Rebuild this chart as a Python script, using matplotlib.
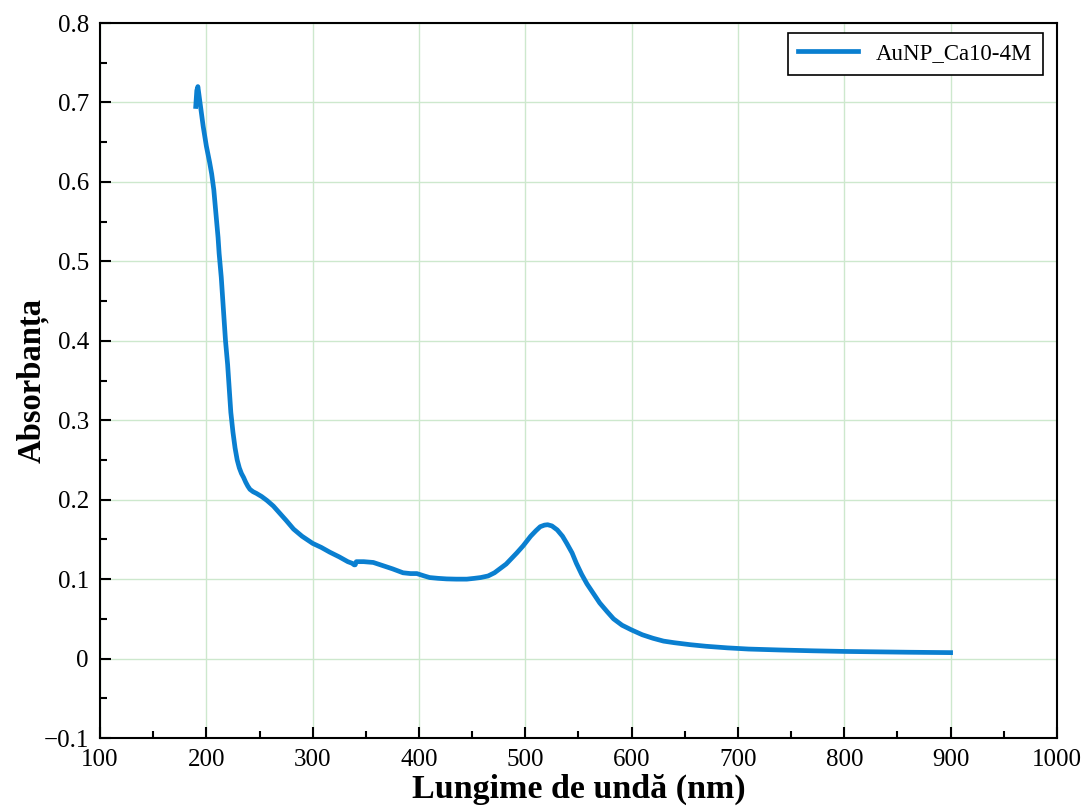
import matplotlib
matplotlib.use('Agg')
import matplotlib.pyplot as plt
from matplotlib.ticker import MultipleLocator

# Lungime de undă (nm) si absorbanța
lungime = [190, 191, 192, 193, 195, 197, 200, 203, 205, 207, 209, 211, 212, 214, 215,
           216, 217, 218, 220, 221, 223, 225, 227, 229, 231, 233, 235, 237, 239, 241,
           244, 247, 252, 257, 263, 269, 275, 282, 290, 300,
           308, 316, 325, 333, 337, 339, 340, 341, 348, 357, 366, 375, 385, 392,
           398, 405, 410, 418, 426, 435, 445, 452, 458, 465, 471, 476, 482, 487,
           492, 498, 505, 510, 514, 518, 521, 525, 530, 535, 539, 544, 548, 553,
           558, 564, 570, 577, 583, 591, 600, 610, 620, 630, 640, 655, 670, 690,
           710, 740, 770, 800, 830, 860, 900]
absorbanta = [0.695, 0.715, 0.72, 0.71, 0.69, 0.67, 0.645, 0.625, 0.61, 0.59, 0.56,
              0.53, 0.51, 0.48, 0.46, 0.44, 0.42, 0.40, 0.37, 0.35, 0.31, 0.285, 0.265,
              0.25, 0.24, 0.233, 0.228, 0.222, 0.217, 0.213, 0.210,
              0.208, 0.204, 0.199, 0.192,
              0.183, 0.174, 0.163, 0.154, 0.145, 0.140, 0.134, 0.128, 0.122, 0.12,
              0.118, 0.118, 0.122, 0.122, 0.121, 0.117, 0.113, 0.108, 0.107, 0.107,
              0.104, 0.102, 0.101, 0.1003, 0.1, 0.1, 0.101, 0.102, 0.104, 0.108,
              0.113, 0.119, 0.126, 0.133, 0.142, 0.154, 0.161, 0.166, 0.168, 0.1685,
              0.167, 0.162, 0.154, 0.145, 0.133, 0.12, 0.106, 0.094, 0.082, 0.07, 0.059,
              0.05, 0.042, 0.036, 0.030, 0.0256, 0.022, 0.020, 0.0175, 0.0155, 0.0135,
              0.012, 0.0108, 0.0098, 0.009, 0.0085, 0.008, 0.0075]

eticheta = 'AuNP_Ca10-4M'

plt.rcParams['font.family'] = ['Liberation Serif', 'DejaVu Serif']

fig = plt.figure(figsize=(10.84, 8.08), dpi=100)
ax = fig.add_axes([0.0923, 0.0866, 0.8827, 0.8849])

ax.plot(lungime, absorbanta, color='#0a7fd0', linewidth=3.4, label=eticheta,
        solid_joinstyle='round', zorder=3)

ax.set_xlim(100, 1000)
ax.set_ylim(-0.1, 0.8)
ax.xaxis.set_major_locator(MultipleLocator(100))
ax.xaxis.set_minor_locator(MultipleLocator(50))
ax.yaxis.set_major_locator(MultipleLocator(0.1))
ax.yaxis.set_minor_locator(MultipleLocator(0.05))
ax.yaxis.set_major_formatter(plt.FuncFormatter(
    lambda v, p: '0' if abs(v) < 1e-9 else f'{v:.1f}'.replace('-', '\u2212')))

ax.grid(True, which='major', color='#cde8cd', linewidth=1.0, zorder=0)
ax.tick_params(which='both', direction='in', top=False, right=False,
               labelsize=18, width=1.5, colors='black')
ax.tick_params(which='major', length=8)
ax.tick_params(which='minor', length=5)
ax.tick_params(axis='x', which='major', pad=8)
ax.tick_params(axis='y', which='major', pad=8)
for s in ax.spines.values():
    s.set_linewidth(1.5)

ax.set_xlabel('Lungime de undă (nm)', fontsize=24.5, fontweight='bold', labelpad=2)
ax.set_ylabel('Absorbanța', fontsize=23.5, fontweight='bold', labelpad=-4)

leg = ax.legend(loc='upper right', fontsize=16.5, fancybox=False, framealpha=1,
                edgecolor='black', handlelength=2.6, borderpad=0.45,
                borderaxespad=0, bbox_to_anchor=(0.9854, 0.986))
leg.get_frame().set_linewidth(1.2)

plt.savefig('out.png', dpi=100)
